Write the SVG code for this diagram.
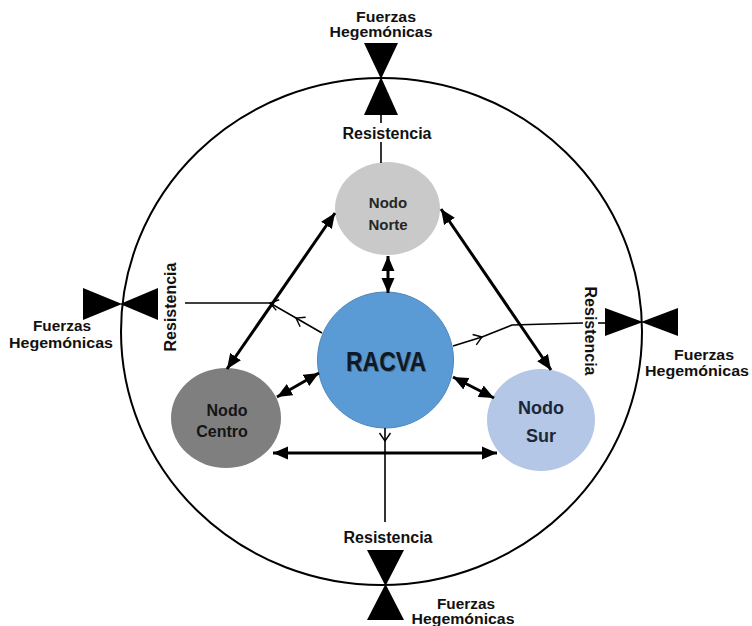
<svg xmlns="http://www.w3.org/2000/svg" width="752" height="626" viewBox="0 0 752 626">
  <defs>
    <style>
      .lbl { font-family: "Liberation Sans", Arial, sans-serif; font-weight: bold; fill: #111; text-anchor: middle; }
      .fz { font-size: 14px; }
      .res { font-size: 16px; }
      .thick { stroke: #000; stroke-width: 3; fill: none; }
      .thin { stroke: #000; stroke-width: 1.6; fill: none; }
      .tie { fill: #000; }
    </style>
    <marker id="head" markerUnits="userSpaceOnUse" markerWidth="16" markerHeight="14" viewBox="0 -7 16 14" refX="15" refY="0" orient="auto-start-reverse">
      <path d="M0,-6.5 L15,0 L0,6.5 Z" fill="#000"/>
    </marker>
    <marker id="chev" markerUnits="userSpaceOnUse" markerWidth="12" markerHeight="14" viewBox="-1 -7 12 14" refX="8" refY="0" orient="auto">
      <path d="M0,-5.5 L8,0 L0,5.5" fill="none" stroke="#000" stroke-width="1.4"/>
    </marker>
  </defs>

  <rect width="752" height="626" fill="#fff"/>

  <!-- outer boundary -->
  <ellipse id="boundary" cx="381.5" cy="331.5" rx="260.5" ry="253.5" fill="none" stroke="#000" stroke-width="2"/>

  <!-- hegemonic forces, top -->
  <g id="fuerzas-top">
    <polygon class="tie" points="364,43 398,43 381,79"/>
    <polygon class="tie" points="381,77 364,115 398,115"/>
    <text class="lbl fz" x="386" y="22" textLength="60" lengthAdjust="spacingAndGlyphs">Fuerzas</text>
    <text class="lbl fz" x="381" y="37" textLength="103" lengthAdjust="spacingAndGlyphs">Hegemónicas</text>
    <text class="lbl res" x="387" y="139">Resistencia</text>
  </g>

  <!-- hegemonic forces, left -->
  <g id="fuerzas-left">
    <polygon class="tie" points="83,288 83,320 122,304"/>
    <polygon class="tie" points="120,304 158,288 158,320"/>
    <text class="lbl fz" x="62" y="331" textLength="58" lengthAdjust="spacingAndGlyphs">Fuerzas</text>
    <text class="lbl fz" x="61" y="348" textLength="104" lengthAdjust="spacingAndGlyphs">Hegemónicas</text>
    <text class="lbl res" transform="translate(176,307) rotate(-90)">Resistencia</text>
  </g>

  <!-- hegemonic forces, right -->
  <g id="fuerzas-right">
    <polygon class="tie" points="605,308 605,336 643,322"/>
    <polygon class="tie" points="641,322 678,308 678,336"/>
    <text class="lbl fz" x="704" y="360" textLength="60" lengthAdjust="spacingAndGlyphs">Fuerzas</text>
    <text class="lbl fz" x="697" y="376" textLength="104" lengthAdjust="spacingAndGlyphs">Hegemónicas</text>
    <text class="lbl res" transform="translate(585,331) rotate(90)">Resistencia</text>
  </g>

  <!-- hegemonic forces, bottom -->
  <g id="fuerzas-bottom">
    <polygon class="tie" points="367,550 404,550 385.5,586"/>
    <polygon class="tie" points="385.5,584 367,620 404,620"/>
    <text class="lbl res" x="388" y="543">Resistencia</text>
    <text class="lbl fz" x="466" y="609" textLength="58" lengthAdjust="spacingAndGlyphs">Fuerzas</text>
    <text class="lbl fz" x="463" y="624" textLength="103" lengthAdjust="spacingAndGlyphs">Hegemónicas</text>
  </g>

  <!-- nodes -->
  <g id="nodo-norte">
    <ellipse cx="387.5" cy="208.5" rx="52.5" ry="46.5" fill="#c9c9c9"/>
    <text class="lbl" x="388" y="208" style="font-size:15px;fill:#262626">Nodo</text>
    <text class="lbl" x="388" y="230" style="font-size:15px;fill:#262626">Norte</text>
  </g>

  <g id="racva">
    <circle cx="385.5" cy="360" r="68" fill="#5b9bd5" stroke="#4f86ba" stroke-width="1"/>
    <text class="lbl" x="387" y="372" textLength="80" lengthAdjust="spacingAndGlyphs" style="font-size:28px;fill:#3a3a3a;opacity:0.5">RACVA</text>
    <text class="lbl" x="386" y="371" textLength="80" lengthAdjust="spacingAndGlyphs" style="font-size:28px;fill:#0f1a26">RACVA</text>
  </g>

  <g id="nodo-centro">
    <ellipse cx="226" cy="418" rx="55" ry="50" fill="#7f7f7f"/>
    <text class="lbl" x="227" y="416" style="font-size:16px;fill:#141414">Nodo</text>
    <text class="lbl" x="222" y="437" style="font-size:16px;fill:#141414">Centro</text>
  </g>

  <g id="nodo-sur">
    <ellipse cx="541" cy="420" rx="54" ry="51" fill="#b4c7e7"/>
    <text class="lbl" x="541" y="414" style="font-size:18px;fill:#1c2838">Nodo</text>
    <text class="lbl" x="541" y="442" style="font-size:18px;fill:#1c2838">Sur</text>
  </g>

  <!-- connectors -->
  <g id="connectors">
    <line class="thick" x1="388" y1="256" x2="388" y2="293" marker-start="url(#head)" marker-end="url(#head)"/>
    <line class="thick" x1="335" y1="213" x2="227" y2="369" marker-start="url(#head)" marker-end="url(#head)"/>
    <line class="thick" x1="441" y1="209" x2="551" y2="370" marker-start="url(#head)" marker-end="url(#head)"/>
    <line class="thick" x1="319" y1="373" x2="277" y2="397" marker-start="url(#head)" marker-end="url(#head)"/>
    <line class="thick" x1="453" y1="377" x2="494" y2="398" marker-start="url(#head)" marker-end="url(#head)"/>
    <line class="thick" x1="273" y1="453" x2="497" y2="453" marker-start="url(#head)" marker-end="url(#head)"/>

    <!-- resistance lines -->
    <line class="thin" x1="381" y1="114" x2="381" y2="123"/>
    <line class="thin" x1="381" y1="142" x2="381" y2="163"/>
    <path class="thin" d="M322,333 L296,318 L270,303 L185,303" marker-mid="url(#chev)"/>
    <path class="thin" d="M453,346 L482,337 L512,325 L583,323"/>
    <path d="M453,346 L482,337 L512,325" fill="none" stroke="none" marker-mid="url(#chev)"/>
    <line class="thin" x1="598" y1="323" x2="605" y2="323"/>
    <path class="thin" d="M385,428 L385,441 L385,522" marker-mid="url(#chev)"/>
  </g>
</svg>
